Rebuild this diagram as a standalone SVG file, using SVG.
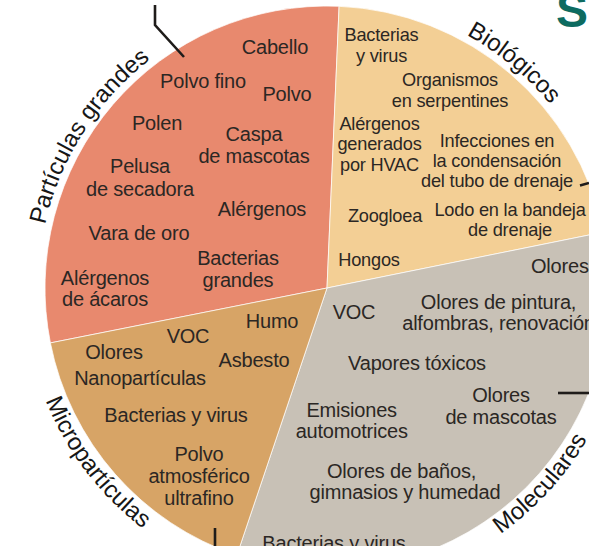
<svg xmlns="http://www.w3.org/2000/svg" width="589" height="546" viewBox="0 0 589 546">
<style>
.t{font-family:"Liberation Sans",Arial,sans-serif;font-size:20px;letter-spacing:-0.2px;fill:#2b2724;text-anchor:middle}
.y{font-size:18.2px}
.s{text-anchor:start}
.lab{font-family:"Liberation Sans",Arial,sans-serif;font-size:24px;fill:#161616}
.sec{stroke:#fff;stroke-width:0.7}
.con{fill:none;stroke:#1f1c1a;stroke-width:2.6}
</style>
<defs>
<path id="arcPG" d="M38.3,300.6 A289,289 0 0 1 216.4,21"/>
<path id="arcBio" d="M400.3,8.5 A289,289 0 0 1 588.3,164.5"/>
<path id="arcMic" d="M26.4,326 A303,303 0 0 0 209.6,567.3"/>
<path id="arcMol" d="M442.2,566.1 A301,301 0 0 0 614.1,378.5"/>
</defs>
<rect width="589" height="546" fill="#fff"/>
<text x="556" y="27" style="font-family:'Liberation Sans',Arial,sans-serif;font-size:48px;font-weight:bold;fill:#0d6b60">S</text>

<g id="particulas-grandes">
<path class="sec" fill="#E8896E" d="M327,288 L50.4,342.9 A282,282 0 0 1 339.1,6.3 Z"/>
<text class="t" x="275" y="54">Cabello</text>
<text class="t" x="203" y="87.5">Polvo fino</text>
<text class="t" x="287" y="101">Polvo</text>
<text class="t" x="157" y="130">Polen</text>
<text class="t" x="254" y="141">Caspa</text>
<text class="t" x="254" y="163">de mascotas</text>
<text class="t" x="140" y="173">Pelusa</text>
<text class="t" x="140" y="195.5">de secadora</text>
<text class="t" x="262" y="216">Alérgenos</text>
<text class="t" x="139" y="239.5">Vara de oro</text>
<text class="t" x="238" y="265">Bacterias</text>
<text class="t" x="238" y="287">grandes</text>
<text class="t" x="105" y="285">Alérgenos</text>
<text class="t" x="105" y="306">de ácaros</text>
<text class="lab"><textPath href="#arcPG" startOffset="50%" text-anchor="middle">Partículas grandes</textPath></text>
</g>

<g id="biologicos">
<path class="sec" fill="#F3CF95" d="M327,288 L339.1,6.3 A282,282 0 0 1 603.4,232.1 Z"/>
<text class="t y" x="381.5" y="41">Bacterias</text>
<text class="t y" x="381.5" y="62">y virus</text>
<text class="t y" x="450" y="86">Organismos</text>
<text class="t y" x="450" y="106.5">en serpentines</text>
<text class="t y" x="379.5" y="129.5">Alérgenos</text>
<text class="t y" x="379.5" y="150">generados</text>
<text class="t y" x="379.5" y="171">por HVAC</text>
<text class="t y" x="497" y="147">Infecciones en</text>
<text class="t y" x="497" y="167">la condensación</text>
<text class="t y" x="497" y="187">del tubo de drenaje</text>
<text class="t y" x="385" y="222">Zoogloea</text>
<text class="t y" x="510" y="216">Lodo en la bandeja</text>
<text class="t y" x="510" y="235.5">de drenaje</text>
<text class="t y" x="369" y="266">Hongos</text>
<text class="lab"><textPath href="#arcBio" startOffset="50%" text-anchor="middle">Biológicos</textPath></text>
</g>

<g id="moleculares">
<path class="sec" fill="#C8C1B6" d="M327,288 L603.4,232.1 A282,282 0 0 1 236.9,555.2 Z"/>
<text class="t s" x="531" y="272.5">Olores</text>
<text class="t" x="354" y="318.5">VOC</text>
<text class="t" x="498.5" y="308.5">Olores de pintura,</text>
<text class="t" x="498.5" y="329.5">alfombras, renovación</text>
<text class="t" x="417" y="370">Vapores tóxicos</text>
<text class="t" x="501" y="402">Olores</text>
<text class="t" x="501" y="423.5">de mascotas</text>
<text class="t" x="351.7" y="417">Emisiones</text>
<text class="t" x="351.7" y="438">automotrices</text>
<text class="t" x="401.5" y="477.5">Olores de baños,</text>
<text class="t" x="405" y="498.5">gimnasios y humedad</text>
<text class="t" x="334" y="549.5">Bacterias y virus</text>
<text class="lab"><textPath href="#arcMol" startOffset="50%" text-anchor="middle">Moleculares</textPath></text>
</g>

<g id="microparticulas">
<path class="sec" fill="#D7A466" d="M327,288 L236.9,555.2 A282,282 0 0 1 50.4,342.9 Z"/>
<text class="t" x="272" y="327.5">Humo</text>
<text class="t" x="188" y="343">VOC</text>
<text class="t" x="114" y="359">Olores</text>
<text class="t" x="254" y="367">Asbesto</text>
<text class="t" x="140" y="385">Nanopartículas</text>
<text class="t" x="176" y="421.5">Bacterias y virus</text>
<text class="t" x="199" y="460.5">Polvo</text>
<text class="t" x="199" y="482.5">atmosférico</text>
<text class="t" x="199" y="505">ultrafino</text>
<text class="lab"><textPath href="#arcMic" startOffset="50%" text-anchor="middle">Micropartículas</textPath></text>
</g>

<g id="connectors">
<path class="con" d="M155,5 V25 L184,57"/>
<path class="con" d="M580,185.5 L589,183"/>
<path class="con" d="M558,393 H589"/>
<path class="con" d="M215,528 V546"/>
</g>
</svg>
